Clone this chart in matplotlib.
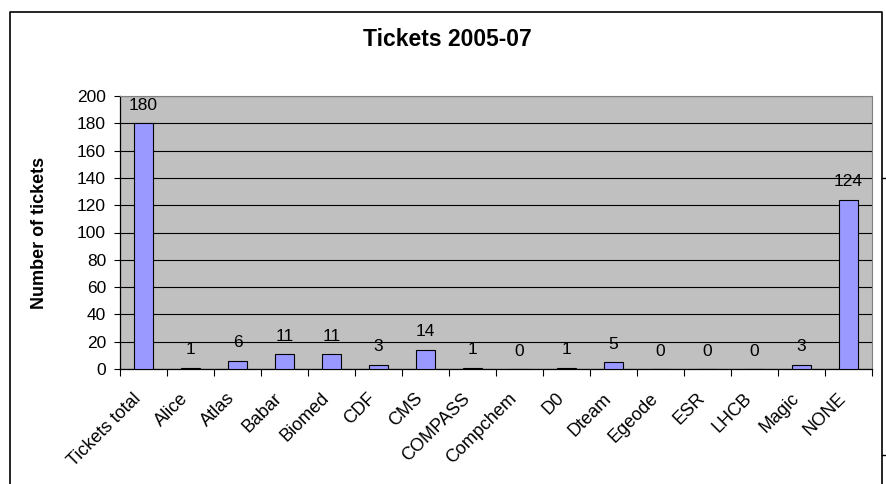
import matplotlib
matplotlib.use('Agg')
import matplotlib.pyplot as plt
import matplotlib.transforms as mtransforms
from matplotlib.lines import Line2D

plt.rcParams['font.family'] = ['Liberation Sans', 'DejaVu Sans']

# data
categories = ['Tickets total', 'Alice', 'Atlas', 'Babar', 'Biomed', 'CDF', 'CMS',
              'COMPASS', 'Compchem', 'D0', 'Dteam', 'Egeode', 'ESR', 'LHCB',
              'Magic', 'NONE']
tickets = [180, 1, 6, 11, 11, 3, 14, 1, 0, 1, 5, 0, 0, 0, 3, 124]
y_ticks = [0, 20, 40, 60, 80, 100, 120, 140, 160, 180, 200]

W, H = 887, 484
fig = plt.figure(figsize=(W / 100, H / 100), dpi=100)

# plot area in pixels: x 120..872, y 96..369
ax = fig.add_axes([120 / W, 1 - 369 / H, (872 - 120) / W, (369 - 96) / H])
ax.set_facecolor('#C0C0C0')

x = list(range(len(categories)))
ax.bar(x, tickets, width=0.4, color='#9999FF', edgecolor='black', linewidth=0.8, zorder=3)

for xi, v in zip(x, tickets):
    ax.annotate(str(v), (xi, v), xytext=(0, 7.5), textcoords='offset points',
                ha='center', va='bottom', fontsize=12.5, zorder=4)

ax.set_xlim(-0.5, len(categories) - 0.5)
ax.set_ylim(0, 200)
ax.set_yticks(y_ticks)
ax.tick_params(axis='y', labelsize=12.5, length=4, width=0.8, direction='out', pad=6)
ax.yaxis.grid(True, color='black', linewidth=0.8, zorder=1)
ax.set_axisbelow(True)

ax.set_xticks(x)
ax.set_xticklabels(categories, rotation=45, ha='right', rotation_mode='anchor', fontsize=13)
ax.tick_params(axis='x', length=0, pad=15)
shift = mtransforms.ScaledTranslation(-11 / 100, 0, fig.dpi_scale_trans)
for lab in ax.get_xticklabels():
    lab.set_transform(lab.get_transform() + shift)
ax.set_xticks([i + 0.5 for i in range(-1, len(categories))], minor=True)
ax.tick_params(axis='x', which='minor', length=5, width=0.8, direction='out')

for s in ['top', 'right']:
    ax.spines[s].set_color('#808080')
for s in ['left', 'bottom']:
    ax.spines[s].set_color('black')
    ax.spines[s].set_linewidth(0.9)

ax.set_ylabel('Number of tickets', fontsize=13, fontweight='bold', labelpad=21)
fig.text(447 / W, 1 - 40 / H, 'Tickets 2005-07', ha='center', va='center',
         fontsize=16.5, fontweight='bold')

# outer chart frame (open at the bottom)
def px_line(xs, ys, **kw):
    fig.add_artist(Line2D([v / W for v in xs], [1 - v / H for v in ys], **kw))

px_line([10, 10, 882, 882], [H + 5, 12, 12, H + 5], color='black', linewidth=1.2)
px_line([882, 887], [178, 178], color='black', linewidth=1)
px_line([882, 887], [455, 455], color='black', linewidth=1)

fig.savefig('out.png', dpi=100)
